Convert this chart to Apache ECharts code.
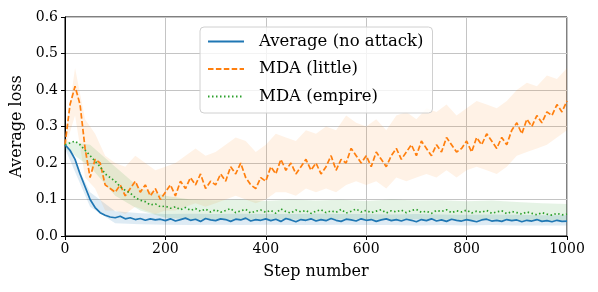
<!DOCTYPE html>
<html><head><meta charset="utf-8">
<script src="https://cdn.jsdelivr.net/npm/echarts@6/dist/echarts.min.js"></script>
<style>html,body{margin:0;padding:0;background:#fff}#c{width:598px;height:292px}</style>
</head><body><div id="c"></div>
<script>
const steps = [0,10,20,30,40,50,60,70,80,90,100,110,120,130,140,150,160,170,180,190,200,210,220,230,240,250,260,270,280,290,300,310,320,330,340,350,360,370,380,390,400,410,420,430,440,450,460,470,480,490,500,510,520,530,540,550,560,570,580,590,600,610,620,630,640,650,660,670,680,690,700,710,720,730,740,750,760,770,780,790,800,810,820,830,840,850,860,870,880,890,900,910,920,930,940,950,960,970,980,990,1000];
const avgLoss = [0.25,0.235,0.21,0.17,0.135,0.10,0.078,0.064,0.057,0.052,0.05,0.054,0.047,0.05,0.045,0.048,0.043,0.047,0.044,0.046,0.042,0.047,0.041,0.045,0.049,0.043,0.046,0.04,0.048,0.044,0.042,0.047,0.045,0.04,0.046,0.044,0.049,0.041,0.045,0.043,0.047,0.042,0.046,0.04,0.048,0.044,0.039,0.045,0.043,0.047,0.041,0.045,0.042,0.048,0.043,0.04,0.046,0.044,0.041,0.047,0.043,0.045,0.04,0.044,0.047,0.042,0.045,0.041,0.046,0.043,0.039,0.045,0.042,0.047,0.041,0.044,0.04,0.046,0.043,0.041,0.045,0.042,0.039,0.044,0.046,0.041,0.043,0.04,0.045,0.042,0.044,0.039,0.043,0.041,0.045,0.04,0.042,0.039,0.043,0.04,0.041];
const littleLoss = [0.25,0.36,0.41,0.36,0.24,0.16,0.21,0.2,0.14,0.13,0.12,0.14,0.11,0.13,0.15,0.12,0.14,0.11,0.13,0.10,0.12,0.14,0.11,0.15,0.13,0.16,0.14,0.17,0.13,0.15,0.14,0.17,0.15,0.19,0.17,0.2,0.16,0.14,0.13,0.16,0.15,0.19,0.17,0.21,0.18,0.2,0.17,0.19,0.21,0.18,0.2,0.17,0.19,0.22,0.18,0.21,0.2,0.24,0.22,0.2,0.22,0.19,0.23,0.21,0.19,0.22,0.24,0.21,0.23,0.25,0.22,0.26,0.24,0.22,0.25,0.23,0.27,0.25,0.23,0.24,0.26,0.23,0.27,0.25,0.28,0.26,0.24,0.27,0.25,0.29,0.31,0.28,0.32,0.3,0.33,0.31,0.34,0.33,0.36,0.34,0.37];
const empireLoss = [0.25,0.255,0.26,0.25,0.235,0.22,0.205,0.19,0.17,0.16,0.15,0.135,0.125,0.118,0.105,0.098,0.094,0.085,0.088,0.08,0.082,0.076,0.08,0.072,0.078,0.07,0.075,0.068,0.074,0.066,0.072,0.065,0.07,0.075,0.064,0.069,0.073,0.063,0.068,0.071,0.065,0.07,0.062,0.074,0.067,0.063,0.071,0.066,0.07,0.062,0.068,0.072,0.064,0.069,0.065,0.073,0.063,0.068,0.074,0.066,0.07,0.064,0.068,0.072,0.063,0.069,0.066,0.071,0.064,0.07,0.073,0.065,0.068,0.062,0.07,0.067,0.072,0.064,0.069,0.066,0.071,0.063,0.068,0.065,0.07,0.062,0.066,0.069,0.061,0.067,0.064,0.06,0.066,0.062,0.058,0.064,0.06,0.057,0.062,0.058,0.06];

const bandStepsO = [0,20,40,60,80,100,120,140,160,180,200,220,240,260,280,300,320,340,360,380,400,420,440,460,480,500,520,540,560,580,600,620,640,660,680,700,720,740,760,780,800,820,840,860,880,900,920,940,960,980,1000];
const littleLow = [0.24,0.33,0.16,0.13,0.07,0.07,0.06,0.08,0.07,0.06,0.07,0.07,0.08,0.09,0.08,0.09,0.1,0.11,0.1,0.09,0.1,0.12,0.12,0.11,0.13,0.12,0.13,0.12,0.14,0.15,0.14,0.15,0.13,0.16,0.15,0.16,0.17,0.16,0.18,0.16,0.18,0.19,0.18,0.17,0.19,0.22,0.23,0.24,0.25,0.27,0.29];
const littleHigh = [0.26,0.46,0.32,0.28,0.22,0.2,0.19,0.22,0.2,0.18,0.19,0.2,0.22,0.24,0.22,0.23,0.25,0.27,0.26,0.23,0.25,0.28,0.27,0.26,0.29,0.28,0.3,0.29,0.33,0.31,0.3,0.32,0.29,0.33,0.34,0.32,0.35,0.34,0.36,0.33,0.35,0.37,0.36,0.35,0.37,0.4,0.42,0.41,0.44,0.43,0.46];
const bandSteps = [0,50,100,150,200,250,300,350,400,450,500,550,600,650,700,750,800,850,900,950,1000];
const empireLow = [0.24,0.19,0.11,0.07,0.05,0.045,0.046,0.044,0.046,0.045,0.044,0.046,0.045,0.044,0.046,0.045,0.044,0.045,0.043,0.042,0.043];
const empireHigh = [0.26,0.25,0.19,0.13,0.11,0.1,0.098,0.1,0.096,0.1,0.097,0.099,0.096,0.1,0.097,0.098,0.095,0.097,0.093,0.09,0.088];
const avgLow = [0.24,0.08,0.035,0.032,0.031,0.03,0.031,0.03,0.031,0.03,0.03,0.031,0.03,0.03,0.029,0.03,0.029,0.03,0.029,0.029,0.029];
const avgHigh = [0.26,0.12,0.068,0.062,0.06,0.061,0.06,0.061,0.06,0.06,0.061,0.06,0.06,0.059,0.06,0.059,0.058,0.059,0.058,0.057,0.057];

const xTicks = [0,200,400,600,800,1000];
const yTicks = ['0.0','0.1','0.2','0.3','0.4','0.5','0.6'];

const FONT = 'DejaVu Serif';
const C = {blue:'#1f77b4', orange:'#ff7f0e', green:'#2ca02c'};

function pairs(xs, ys){ return xs.map((x,i)=>[x, ys[i]]); }
function band(xs, lo, hi, color){
  return {type:'custom', silent:true, z:1,
    data: xs.map((x,i)=>[x, lo[i], hi[i]]),
    encode:{x:0, y:[1,2]},
    renderItem:(params, api)=>{
      if (params.dataIndex !== 0) return null;
      const pts = [];
      for (let i=0;i<xs.length;i++) pts.push(api.coord([xs[i], hi[i]]));
      for (let i=xs.length-1;i>=0;i--) pts.push(api.coord([xs[i], lo[i]]));
      return {type:'polygon', shape:{points:pts}, style:{fill:color}};
    }};
}

const chart = echarts.init(document.getElementById('c'), null, {renderer:'canvas'});
chart.setOption({
  animation:false,
  backgroundColor:'#fff',
  grid:{left:65, right:31, top:17, bottom:56, show:true, borderColor:'#000', borderWidth:1, backgroundColor:'transparent'},
  xAxis:{type:'value', min:0, max:1000, interval:200,
    name:'Step number', nameLocation:'middle', nameGap:28,
    nameTextStyle:{fontFamily:FONT, fontSize:16, color:'#000'},
    axisLine:{show:true, lineStyle:{color:'#000'}},
    axisTick:{show:true, inside:false, length:4, lineStyle:{color:'#000'}},
    axisLabel:{fontFamily:FONT, fontSize:14, color:'#000', margin:6, formatter:(v)=>String(v)},
    splitLine:{show:true, lineStyle:{color:'#c4c4c4', width:1}}},
  yAxis:{type:'value', min:0, max:0.6, interval:0.1,
    name:'Average loss', nameLocation:'middle', nameGap:37,
    nameTextStyle:{fontFamily:FONT, fontSize:16, color:'#000'},
    axisLine:{show:true, lineStyle:{color:'#000'}},
    axisTick:{show:true, inside:false, length:4, lineStyle:{color:'#000'}},
    axisLabel:{fontFamily:FONT, fontSize:14, color:'#000', margin:7,
      formatter:(v)=>yTicks[Math.round(v*10)]},
    splitLine:{show:true, lineStyle:{color:'#c4c4c4', width:1}}},
  legend:{data:['Average (no attack)','MDA (little)','MDA (empire)'],
    orient:'vertical', left:200, top:27, itemWidth:36, itemHeight:12, itemGap:10.5,
    padding:[6,9,8,7], borderRadius:4, borderColor:'#d0d0d0', borderWidth:1,
    backgroundColor:'rgba(255,255,255,0.8)',
    itemStyle:{opacity:0, color:'rgba(0,0,0,0)', borderWidth:0},
    textStyle:{fontFamily:FONT, fontSize:16.5, color:'#000', padding:[0,0,0,10]}},
  series:[
    band(bandSteps, avgLow, avgHigh, 'rgba(31,119,180,0.15)'),
    band(bandStepsO, littleLow, littleHigh, 'rgba(255,127,14,0.1)'),
    band(bandSteps, empireLow, empireHigh, 'rgba(44,160,44,0.12)'),
    {name:'Average (no attack)', type:'line', data:pairs(steps, avgLoss), symbol:'none', color:C.blue,
      lineStyle:{width:1.7, color:C.blue}, z:3},
    {name:'MDA (little)', type:'line', data:pairs(steps, littleLoss), symbol:'none', color:C.orange,
      lineStyle:{width:1.7, color:C.orange, type:[5.5,2.4]}, z:3},
    {name:'MDA (empire)', type:'line', data:pairs(steps, empireLoss), symbol:'none', color:C.green,
      lineStyle:{width:1.7, color:C.green, type:[1.5,2.5]}, z:3}
  ]
});
</script></body></html>
